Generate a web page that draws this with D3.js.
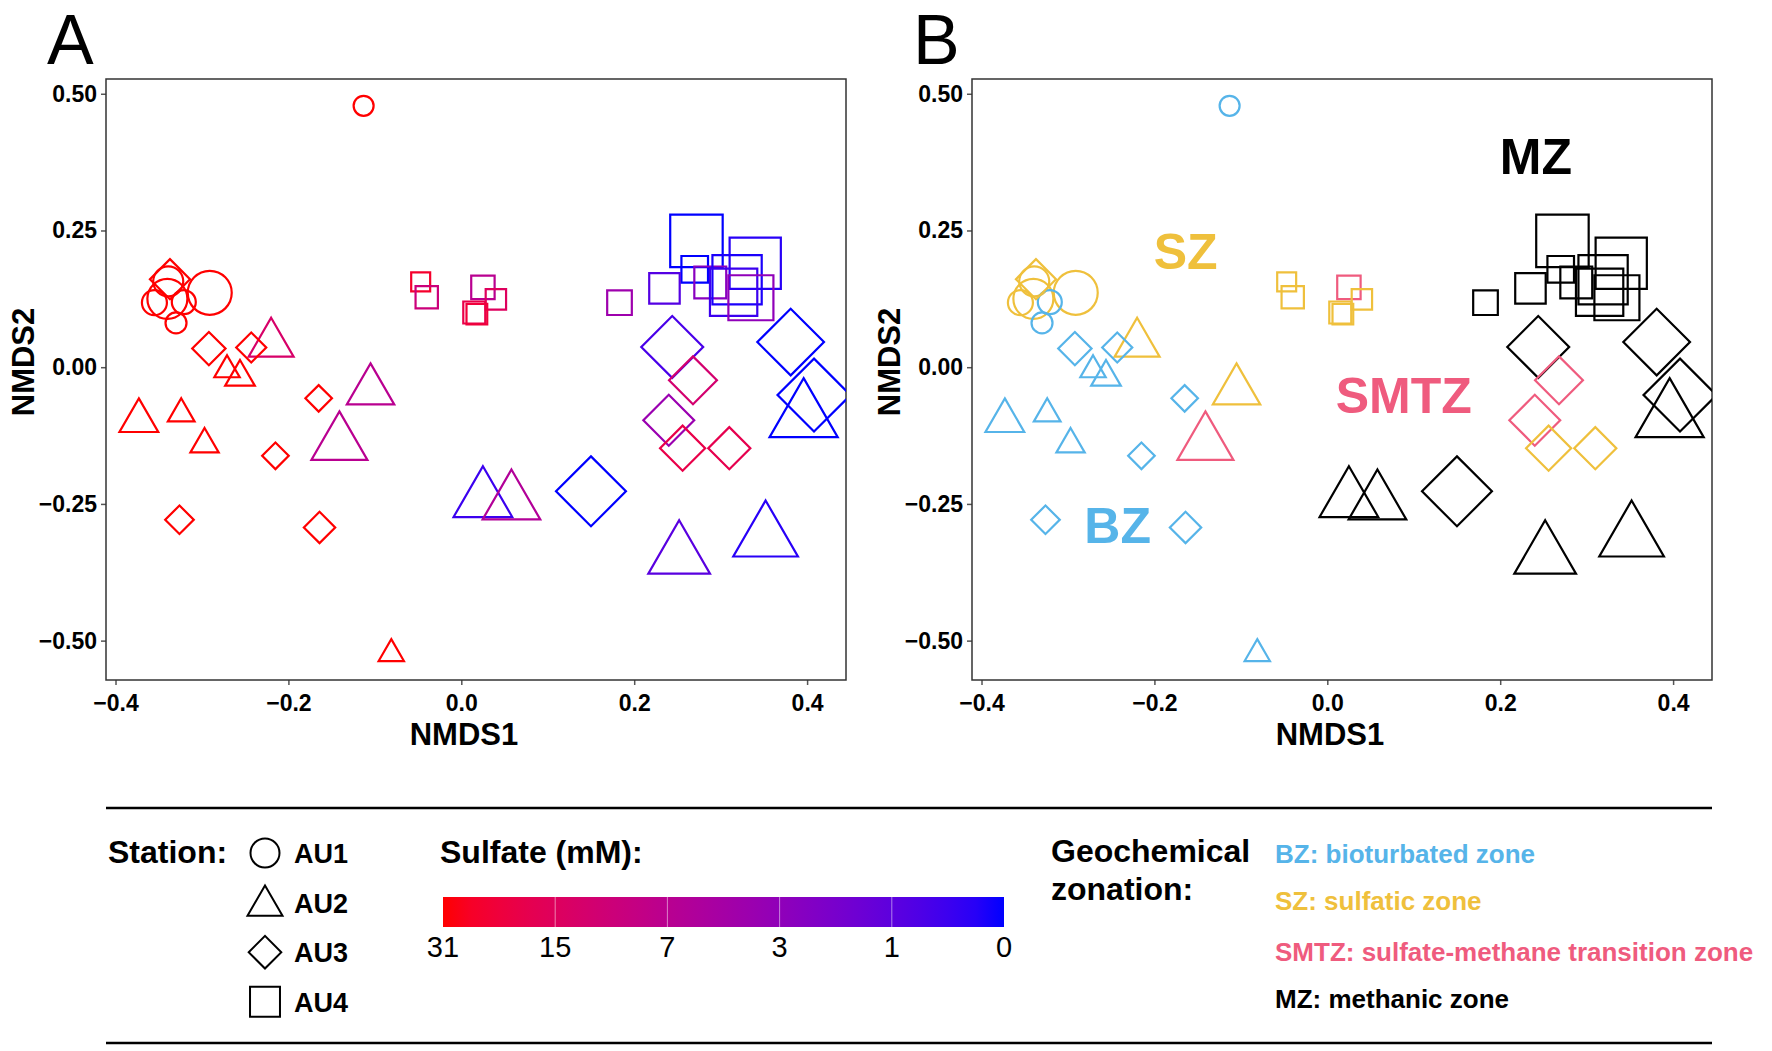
<!DOCTYPE html>
<html>
<head>
<meta charset="utf-8">
<script src="https://cdn.jsdelivr.net/npm/d3@7.9.0/dist/d3.min.js"></script>
<style>
  body { margin: 0; background: #fff; }
  svg { display: block; font-family: "Liberation Sans", Arial, Helvetica, sans-serif; }
</style>
</head>
<body>
<svg id="chart" width="1772" height="1051"></svg>
<script>
// ---- data: one entry per sample (AU1 circles, AU2 triangles, AU3 diamonds, AU4 squares) ----
const station = [
  'AU1','AU1','AU1','AU1','AU1','AU1','AU1',
  'AU2','AU2','AU2','AU2','AU2','AU2','AU2','AU2','AU2','AU2','AU2','AU2','AU2','AU2',
  'AU3','AU3','AU3','AU3','AU3','AU3','AU3','AU3','AU3','AU3','AU3','AU3','AU3','AU3','AU3',
  'AU4','AU4','AU4','AU4','AU4','AU4','AU4','AU4','AU4','AU4','AU4','AU4','AU4','AU4','AU4'
];
const nmds1 = [
  -0.113, -0.291, -0.339, -0.340, -0.355, -0.321, -0.330,
  -0.220, -0.271, -0.256, -0.373, -0.324, -0.297, -0.105, -0.141, -0.081, 0.025, 0.058, 0.252, 0.352, 0.396,
  -0.337, -0.292, -0.243, -0.165, -0.215, -0.326, -0.164, 0.244, 0.381, 0.408, 0.268, 0.240, 0.256, 0.310, 0.150,
  -0.047, -0.040, 0.025, 0.040, 0.015, 0.018, 0.183, 0.272, 0.340, 0.270, 0.235, 0.288, 0.319, 0.315, 0.335
];
const nmds2 = [
  0.478, 0.136, 0.157, 0.125, 0.118, 0.119, 0.081,
  0.043, -0.005, -0.018, -0.098, -0.085, -0.141, -0.043, -0.140, -0.524, -0.243, -0.248, -0.345, -0.312, -0.092,
  0.161, 0.034, 0.036, -0.057, -0.162, -0.279, -0.293, 0.037, 0.046, -0.051, -0.024, -0.097, -0.148, -0.148, -0.227,
  0.156, 0.128, 0.146, 0.124, 0.100, 0.097, 0.118, 0.231, 0.190, 0.179, 0.144, 0.155, 0.160, 0.137, 0.127
];
// symbol radius (px, as drawn)
const depthSize = [
  10, 22, 15, 20, 12.5, 12, 10.5,
  16.7, 9.4, 11, 14.4, 9.9, 10.5, 17.6, 20.8, 9.4, 21.8, 21.4, 22.9, 24, 25.3,
  16, 13.3, 12, 10.6, 10.6, 11.4, 12.5, 24.7, 26.6, 29.1, 19.1, 20.3, 18, 16.8, 27.9,
  10.7, 12.6, 13.2, 11.5, 12.4, 11.7, 13.9, 29.6, 28.9, 15, 17.2, 18, 27.8, 26.7, 25.4
];
// sulfate (mM)
const sulfate = [
  31, 31, 31, 31, 31, 31, 31,
  13, 31, 31, 31, 31, 31, 7, 7, 31, 0.4, 6, 0.9, 0.2, 0,
  31, 31, 31, 31, 31, 31, 31, 0.6, 0, 0, 12, 3.7, 19, 18, 0,
  25, 10, 7, 15, 19, 22, 4, 0, 0.2, 0, 0.8, 2.6, 0.1, 0.4, 3
];
const zone = [
  'BZ','SZ','SZ','SZ','SZ','BZ','BZ',
  'SZ','BZ','BZ','BZ','BZ','BZ','SZ','SMTZ','BZ','MZ','MZ','MZ','MZ','MZ',
  'SZ','BZ','BZ','BZ','BZ','BZ','BZ','MZ','MZ','MZ','SMTZ','SMTZ','SZ','SZ','MZ',
  'SZ','SZ','SMTZ','SZ','SZ','SZ','MZ','MZ','MZ','MZ','MZ','MZ','MZ','MZ','MZ'
];

const stations = ['AU1', 'AU2', 'AU3', 'AU4'];
const zoneNames = ['BZ', 'SZ', 'SMTZ', 'MZ'];
const zoneColors = ['#56b4e9', '#efc03c', '#ef5b7e', '#000000'];
const zoneLabels = ['BZ: bioturbated zone', 'SZ: sulfatic zone', 'SMTZ: sulfate-methane transition zone', 'MZ: methanic zone'];
const zoneLabelX = [-0.2425, -0.1638, 0.0885, 0.2413];
const zoneLabelY = [-0.2877, 0.2116, -0.0509, 0.3854];
const sulfateTicks = [31, 15, 7, 3, 1, 0];
const yTicks = [-0.5, -0.25, 0, 0.25, 0.5];
const xTicks = [-0.4, -0.2, 0, 0.2, 0.4];

const samples = station.map((s, i) => ({
  station: s, x: nmds1[i], y: nmds2[i], r: depthSize[i], sulfate: sulfate[i], zone: zone[i]
}));

// ---- layout ----
const plotW = 740, plotH = 601;
const panels = [
  { key: 'A', left: 106, top: 79, color: (d) => sulfateColor(d.sulfate) },
  { key: 'B', left: 972, top: 79, color: (d) => zoneScale(d.zone) },
];

const x = d3.scaleLinear().domain([-0.411, 0.445]).range([0, plotW]);
const y = d3.scaleLinear().domain([-0.572, 0.527]).range([plotH, 0]);
const sulfatePos = d3.scaleLinear().domain([5, 0]); // log2(sulfate + 1)
const blueToRed = d3.interpolateRgb.gamma(1.6)('#0000ff', '#ff0000');
const sulfateColor = (s) => blueToRed(Math.log2(s + 1) / 5);
const zoneScale = d3.scaleOrdinal().domain(zoneNames).range(zoneColors);

const shapeType = { AU1: d3.symbolCircle, AU2: d3.symbolTriangle, AU3: d3.symbolSquare, AU4: d3.symbolSquare };
function symbolPath(st, r) {
  return d3.symbol().type(shapeType[st]).size(Math.PI * r * r)();
}
function symbolTransform(st, px, py) {
  return `translate(${px},${py})` + (st === 'AU3' ? ' rotate(45)' : '');
}

const svg = d3.select('#chart');
const defs = svg.append('defs');

panels.forEach((p) => {
  const g = svg.append('g').attr('transform', `translate(${p.left},${p.top})`);

  defs.append('clipPath').attr('id', 'clip' + p.key)
    .append('rect').attr('width', plotW).attr('height', plotH);

  // panel letter
  svg.append('text')
    .attr('x', p.left - 59).attr('y', 64)
    .attr('font-size', 70)
    .text(p.key);

  // axes
  const yAxis = g.append('g')
    .call(d3.axisLeft(y).tickValues(yTicks).tickFormat(d3.format('.2f')).tickSize(5).tickPadding(4));
  const xAxis = g.append('g').attr('transform', `translate(0,${plotH})`)
    .call(d3.axisBottom(x).tickValues(xTicks).tickFormat(d3.format('.1f')).tickSize(5).tickPadding(10));
  [xAxis, yAxis].forEach((a) => {
    a.select('.domain').remove();
    a.selectAll('line').attr('stroke', '#555').attr('stroke-width', 1.5);
    a.selectAll('text').attr('font-size', 23).attr('font-weight', 'bold').attr('fill', '#000')
      .style('font-family', '"Liberation Sans", Arial, sans-serif');
  });

  // frame
  g.append('rect').attr('width', plotW).attr('height', plotH)
    .attr('fill', 'none').attr('stroke', '#333').attr('stroke-width', 1.5);

  // axis titles
  g.append('text')
    .attr('x', 358).attr('y', 666)
    .attr('text-anchor', 'middle').attr('font-size', 31).attr('font-weight', 'bold')
    .text('NMDS1');
  g.append('text')
    .attr('transform', `translate(${-72},${283}) rotate(-90)`)
    .attr('text-anchor', 'middle').attr('font-size', 31).attr('font-weight', 'bold')
    .text('NMDS2');

  // points
  g.append('g').attr('clip-path', `url(#clip${p.key})`)
    .selectAll('path')
    .data(samples)
    .join('path')
    .attr('d', (d) => symbolPath(d.station, d.r))
    .attr('transform', (d) => symbolTransform(d.station, x(d.x), y(d.y)))
    .attr('fill', 'none')
    .attr('stroke', p.color)
    .attr('stroke-width', 2.2);

  if (p.key === 'B') {
    g.append('g').selectAll('text')
      .data(zoneNames)
      .join('text')
      .attr('x', (d, i) => x(zoneLabelX[i]))
      .attr('y', (d, i) => y(zoneLabelY[i]) + 18)
      .attr('text-anchor', 'middle')
      .attr('font-size', 50).attr('font-weight', 'bold')
      .attr('fill', (d) => zoneScale(d))
      .text((d) => d);
  }
});

// ---- legend ----
const leg = svg.append('g');
[808, 1043].forEach((ly) => {
  leg.append('line').attr('x1', 106).attr('x2', 1712).attr('y1', ly).attr('y2', ly)
    .attr('stroke', '#000').attr('stroke-width', 2.5);
});

leg.append('text').attr('x', 108).attr('y', 863)
  .attr('font-size', 32).attr('font-weight', 'bold').text('Station:');

const legSize = { AU1: 14.5, AU2: 13, AU3: 13, AU4: 16.9 };
const rowY = (i) => 853 + i * 49.6;
leg.append('g').selectAll('path')
  .data(stations)
  .join('path')
  .attr('d', (d) => symbolPath(d, legSize[d]))
  .attr('transform', (d, i) => symbolTransform(d, 265, rowY(i) + (d === 'AU2' ? 3 : 0)))
  .attr('fill', 'none').attr('stroke', '#000').attr('stroke-width', 2);
leg.append('g').selectAll('text')
  .data(stations)
  .join('text')
  .attr('x', 294).attr('y', (d, i) => rowY(i) + 10)
  .attr('font-size', 27).attr('font-weight', 'bold')
  .text((d) => d);

// sulfate colour bar
leg.append('text').attr('x', 440).attr('y', 863)
  .attr('font-size', 32).attr('font-weight', 'bold').text('Sulfate (mM):');

const barX0 = 443, barX1 = 1004, barY = 897, barH = 30;
sulfatePos.range([barX0, barX1]);
const grad = defs.append('linearGradient').attr('id', 'sulfGrad')
  .attr('x1', '0%').attr('x2', '100%').attr('y1', '0%').attr('y2', '0%');
d3.range(0, 1.0001, 0.05).forEach((t) => {
  grad.append('stop').attr('offset', `${t * 100}%`)
    .attr('stop-color', blueToRed(1 - t));
});
leg.append('rect').attr('x', barX0).attr('y', barY).attr('width', barX1 - barX0).attr('height', barH)
  .attr('fill', 'url(#sulfGrad)');
leg.append('g').selectAll('line')
  .data(sulfateTicks.slice(1, -1))
  .join('line')
  .attr('x1', (d) => sulfatePos(Math.log2(d + 1))).attr('x2', (d) => sulfatePos(Math.log2(d + 1)))
  .attr('y1', barY).attr('y2', barY + barH)
  .attr('stroke', '#fff').attr('stroke-opacity', 0.5).attr('stroke-width', 1);
leg.append('g').selectAll('text')
  .data(sulfateTicks)
  .join('text')
  .attr('x', (d) => sulfatePos(Math.log2(d + 1)))
  .attr('y', 957)
  .attr('text-anchor', 'middle').attr('font-size', 29)
  .text((d) => d);

// zonation legend
leg.append('text').attr('x', 1051).attr('y', 862)
  .attr('font-size', 32).attr('font-weight', 'bold').text('Geochemical');
leg.append('text').attr('x', 1051).attr('y', 900)
  .attr('font-size', 32).attr('font-weight', 'bold').text('zonation:');
leg.append('g').selectAll('text')
  .data(zoneNames)
  .join('text')
  .attr('x', 1275)
  .attr('y', (d, i) => [863, 910, 961, 1008][i])
  .attr('font-size', 26).attr('font-weight', 'bold')
  .attr('fill', (d) => zoneScale(d))
  .text((d, i) => zoneLabels[i]);
</script>
</body>
</html>
